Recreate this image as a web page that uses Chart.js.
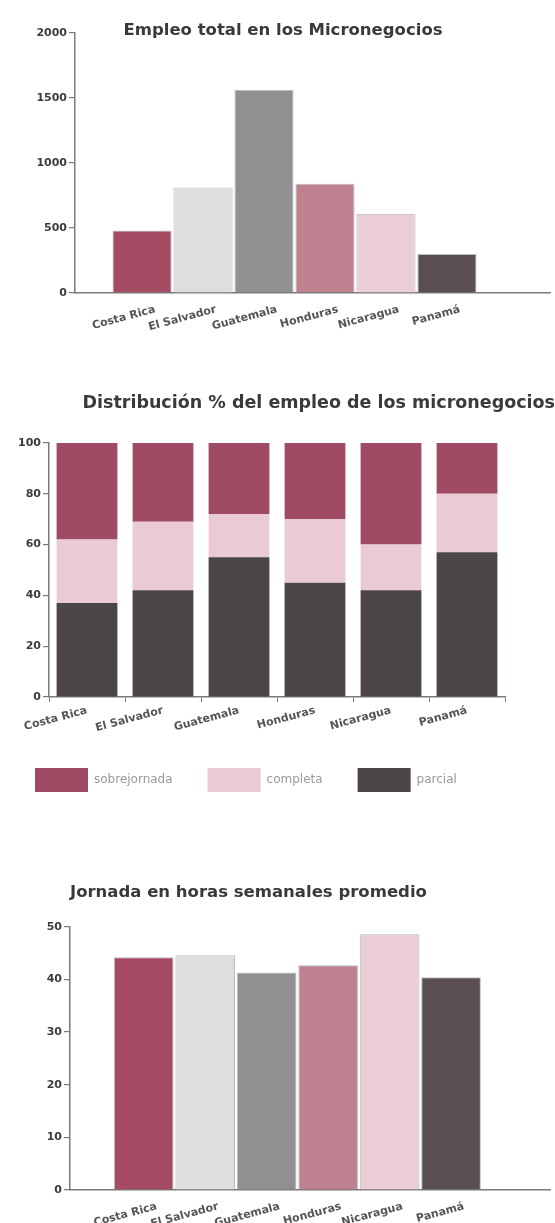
<!DOCTYPE html>
<html><head><meta charset="utf-8">
<script src="https://cdn.jsdelivr.net/npm/chart.js@4"></script>
<style>
html,body{margin:0;padding:0;background:#fff;width:555px;height:1223px;overflow:hidden;}
canvas{display:block;position:absolute;left:0;}
</style></head><body>
<canvas id="c1" width="555" height="340" style="top:0"></canvas>
<canvas id="c2" width="555" height="462" style="top:340px"></canvas>
<canvas id="c3" width="555" height="363" style="top:860px"></canvas>
<script>
// ---- data ----
const categories = ['Costa Rica', 'El Salvador', 'Guatemala', 'Honduras', 'Nicaragua', 'Panamá'];
const empleoTotal = [480, 810, 1560, 840, 610, 300];
const parcial = [37, 42, 55, 45, 42, 57];
const completa = [25, 27, 17, 25, 18, 23];
const sobrejornada = [38, 31, 28, 30, 40, 20];
const jornadaHoras = [44.2, 44.6, 41.3, 42.7, 48.6, 40.4];
const seriesNames = ['sobrejornada', 'completa', 'parcial'];
const titles = ['Empleo total en los Micronegocios', 'Distribución % del empleo de los micronegocios', 'Jornada en horas semanales promedio'];
const yTicks1 = [0, 500, 1000, 1500, 2000];
const yTicks2 = [0, 20, 40, 60, 80, 100];
const yTicks3 = [0, 10, 20, 30, 40, 50];

// ---- styles ----
const barColors = ['#a54b64', '#dedede', '#909093', '#be8190', '#ebcdd6', '#584e54'];
const cSobre = '#a04b64', cCompl = '#eacad4', cParc = '#4d4649';
Chart.defaults.font.family = "'DejaVu Sans', sans-serif";
Chart.defaults.color = '#444';
Chart.defaults.animation = false;
const axisCol = '#7a7a7a';
const tickFont = {size: 11, weight: 'bold'};

function catLabel(v) {
  return (Number.isInteger(v) && v >= 0 && v < categories.length) ? categories[v] : '';
}
function yAxis(ticksArr, width) {
  return {
    min: ticksArr[0], max: ticksArr[ticksArr.length - 1],
    afterFit: s => { s.width = width; },
    afterBuildTicks: s => { s.ticks = ticksArr.map(v => ({value: v})); },
    ticks: {font: tickFont, color: '#3c3c3c', padding: 2, callback: v => String(v)},
    grid: {drawOnChartArea: false, tickLength: 6, color: axisCol, lineWidth: 1.2},
    border: {color: axisCol, width: 1.5}
  };
}
function xLinear(min, max, height) {
  return {
    type: 'linear', min: min, max: max, offset: false,
    afterFit: s => { s.height = height; },
    afterBuildTicks: s => { s.ticks = categories.map((c, i) => ({value: i})); },
    ticks: {font: tickFont, color: '#555', minRotation: 15, maxRotation: 15, autoSkip: false, padding: 2,
            labelOffset: 13, callback: v => catLabel(v)},
    grid: {display: false},
    border: {color: axisCol, width: 1.5}
  };
}

// ---- Chart 1 ----
new Chart(document.getElementById('c1'), {
  type: 'bar',
  data: {datasets: [{
    data: categories.map((c, i) => ({x: i, y: empleoTotal[i]})),
    backgroundColor: barColors, borderColor: 'rgba(120,120,120,0.5)', borderWidth: 1,
    categoryPercentage: 1, barPercentage: 0.97
  }]},
  options: {
    responsive: false,
    layout: {padding: {right: 5, left: 16}},
    plugins: {
      legend: {display: false}, tooltip: {enabled: false},
      title: {display: true, text: titles[0], font: {size: 16.5, weight: 'bold'}, color: '#3a3a3a', padding: {top: 21, bottom: -8}}
    },
    scales: {
      x: xLinear(-1.1, 6.69, 47),
      y: yAxis(yTicks1, 59)
    }
  }
});

// ---- Chart 2 ----
new Chart(document.getElementById('c2'), {
  type: 'bar',
  data: {
    labels: categories,
    datasets: [
      {label: seriesNames[2], data: parcial, backgroundColor: cParc},
      {label: seriesNames[1], data: completa, backgroundColor: cCompl},
      {label: seriesNames[0], data: sobrejornada, backgroundColor: cSobre}
    ]
  },
  options: {
    responsive: false,
    datasets: {bar: {categoryPercentage: 1, barPercentage: 0.8}},
    plugins: {
      tooltip: {enabled: false},
      title: {display: true, text: titles[1], font: {size: 17.5, weight: 'bold'}, color: '#3a3a3a', align: 'end', padding: {top: 53, bottom: 29}},
      legend: {
        position: 'bottom', align: 'start',
        labels: {boxWidth: 53, boxHeight: 24, padding: 35, color: '#999', font: {size: 12},
                 sort: (a, b) => b.datasetIndex - a.datasetIndex}
      }
    },
    scales: {
      x: {
        stacked: true,
        afterFit: s => { s.height = 36; },
        ticks: {font: tickFont, color: '#555', minRotation: 15, maxRotation: 15, autoSkip: false, padding: 2},
        grid: {drawOnChartArea: false, tickLength: 5, color: axisCol, offset: true},
        border: {color: axisCol, width: 1.5}
      },
      y: Object.assign(yAxis(yTicks2, 49), {stacked: true}),
      yRight: {
        position: 'right', display: true,
        afterFit: s => { s.width = 50; },
        ticks: {display: false}, grid: {display: false}, border: {display: false}
      }
    }
  }
});

// ---- Chart 3 ----
new Chart(document.getElementById('c3'), {
  type: 'bar',
  data: {datasets: [{
    data: categories.map((c, i) => ({x: i, y: jornadaHoras[i]})),
    backgroundColor: barColors, borderColor: 'rgba(120,120,120,0.5)', borderWidth: 1,
    categoryPercentage: 1, barPercentage: 0.97
  }]},
  options: {
    responsive: false,
    layout: {padding: {right: 5}},
    plugins: {
      legend: {display: false}, tooltip: {enabled: false},
      title: {display: true, text: titles[2], font: {size: 16.5, weight: 'bold'}, color: '#3a3a3a', align: 'start', fullSize: false, padding: {top: 23, bottom: 24}}
    },
    scales: {
      x: xLinear(-1.2, 6.61, 33),
      y: yAxis(yTicks3, 70)
    }
  }
});
</script>
</body></html>
